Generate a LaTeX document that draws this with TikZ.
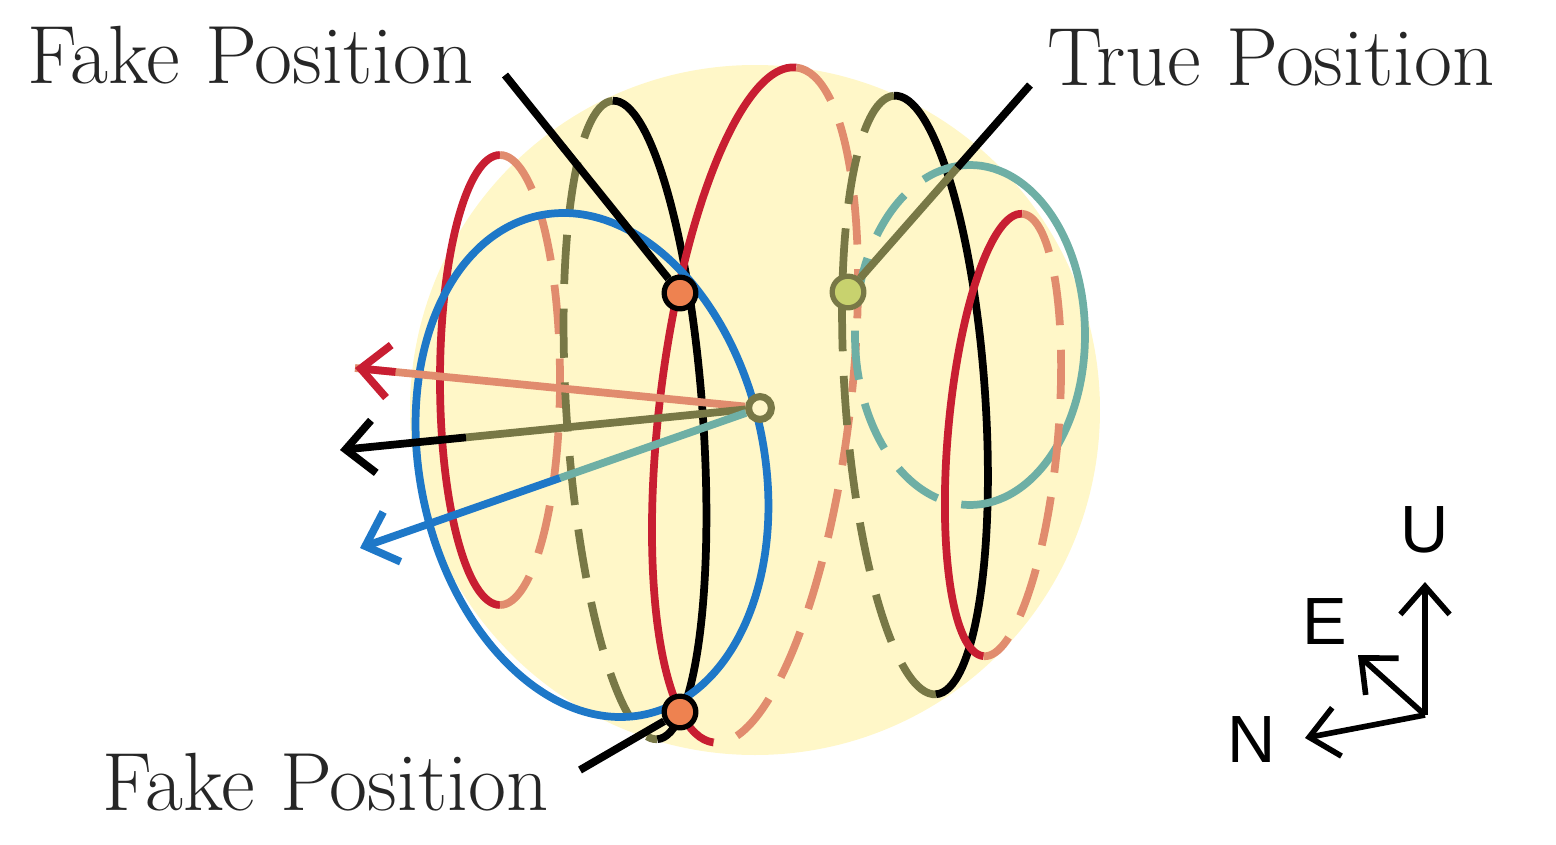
\documentclass[tikz,border=0pt]{standalone}
\usetikzlibrary{arrows.meta,calc}
\usepackage{fontspec}
\newfontfamily\sansf{Liberation Sans}
\begin{document}
\begin{tikzpicture}[x=0.01cm,y=-0.01cm,
  sol/.style={line width=2.2pt},
  dsh/.style={line width=2.2pt,dash pattern=on 14pt off 7pt},
  lbl/.style={font=\fontsize{23.5}{26}\selectfont,text=black!85},
  ax/.style={line width=1.6pt,-{Straight Barb[length=8pt,width=14pt]}},
  hd/.style={-{Straight Barb[length=8pt,width=15pt]}},
  dot/.style={circle,draw=black,line width=1.5pt,minimum size=9pt,inner sep=0pt}]
\useasboundingbox (0,0) rectangle (1556,845);
\definecolor{bg}{RGB}{255,247,200}
\definecolor{rd}{RGB}{200,30,50}
\definecolor{sal}{RGB}{225,140,110}
\definecolor{olv}{RGB}{120,120,70}
\definecolor{tl}{RGB}{110,175,165}
\definecolor{bl}{RGB}{30,120,200}
\definecolor{org}{RGB}{238,130,80}
\definecolor{grn}{RGB}{200,210,110}
\fill[bg] (755,410) circle (345);
% left red ellipse
\draw[sol,rd] (500,155) arc[start angle=90,end angle=270,x radius=60,y radius=-225];
\draw[dsh,sal] (500,155) arc[start angle=90,end angle=-90,x radius=60,y radius=-225];
% black/olive left
\begin{scope}[shift={(635,420)},rotate=4]
\draw[dsh,olv] (0,-320) arc[start angle=90,end angle=270,x radius=68,y radius=-320];
\draw[sol,black] (0,-320) arc[start angle=90,end angle=-90,x radius=68,y radius=-320];
\end{scope}
% middle red
\begin{scope}[shift={(755,405)},rotate=-7]
\draw[sol,rd] (0,-340) arc[start angle=90,end angle=270,x radius=95,y radius=-340];
\draw[dsh,sal] (0,-340) arc[start angle=90,end angle=-90,x radius=95,y radius=-340];
\end{scope}
% right black/olive
\begin{scope}[shift={(915,395)},rotate=4]
\draw[dsh,olv] (0,-300) arc[start angle=90,end angle=270,x radius=70,y radius=-300];
\draw[sol,black] (0,-300) arc[start angle=90,end angle=-90,x radius=70,y radius=-300];
\end{scope}
% teal
\begin{scope}[shift={(970,335)}]
\draw[dsh,tl] (0,-170) arc[start angle=90,end angle=270,x radius=115,y radius=-170];
\draw[sol,tl] (0,-170) arc[start angle=90,end angle=-90,x radius=115,y radius=-170];
\end{scope}
% right red
\begin{scope}[shift={(1003,435)},rotate=-5]
\draw[sol,rd] (0,-222) arc[start angle=90,end angle=270,x radius=55,y radius=-222];
\draw[dsh,sal] (0,-222) arc[start angle=90,end angle=-90,x radius=55,y radius=-222];
\end{scope}
% blue
\draw[sol,bl,rotate around={12:(592,465)}] (592,465) ellipse[x radius=172,y radius=255];
% center and arrows
\node[circle,draw=olv,fill=bg,line width=2pt,minimum size=6.5pt,inner sep=0pt] (c) at (760,408) {};
\coordinate (ar) at (355,368);
\coordinate (ab) at (340,450);
\coordinate (ac) at (360,548);
\draw[sol,sal] (c) -- (ar);
\draw[sol,rd,hd] ($(c)!0.9!(ar)$) -- (ar);
\draw[sol,olv] (c) -- ($(c)!0.7!(ab)$);
\draw[sol,black,hd] ($(c)!0.7!(ab)$) -- (ab);
\draw[sol,tl] (c) -- ($(c)!0.5!(ac)$);
\draw[sol,bl,hd] ($(c)!0.5!(ac)$) -- (ac);
% labels
\node[lbl,anchor=west] (f1) at (15,55) {Fake Position};
\node[lbl,anchor=west] (tp) at (1035,58) {True Position};
\node[lbl,anchor=west] (f2) at (90,782) {Fake Position};
\node[dot,fill=org] (p1) at (680,293) {};
\node[dot,fill=org] (p2) at (680,712) {};
\node[dot,draw=olv,fill=grn] (p3) at (848,292) {};
\coordinate (l1) at (505,75);
\coordinate (l2) at (1030,85);
\coordinate (l3) at (580,770);
\draw[line width=2.2pt] (l1) -- (p1);
\draw[line width=2.2pt] (l2) -- ($(l2)!0.4!(p3)$);
\draw[line width=2.2pt,olv] ($(l2)!0.4!(p3)$) -- (p3);
\draw[line width=2.2pt] (l3) -- (p2);
% ENU
\coordinate (o) at (1425,715);
\coordinate (u) at (1425,582);
\coordinate (n) at (1305,738);
\coordinate (e) at (1358,655);
\draw[ax] (o) -- (u);
\draw[ax] (o) -- (n);
\draw[ax] (o) -- (e);
\node[font=\sansf\fontsize{19}{20}\selectfont] (U) at (1425,530) {U};
\node[font=\sansf\fontsize{19}{20}\selectfont] (E) at (1325,622) {E};
\node[font=\sansf\fontsize{19}{20}\selectfont] (N) at (1252,740) {N};
\end{tikzpicture}
\end{document}
